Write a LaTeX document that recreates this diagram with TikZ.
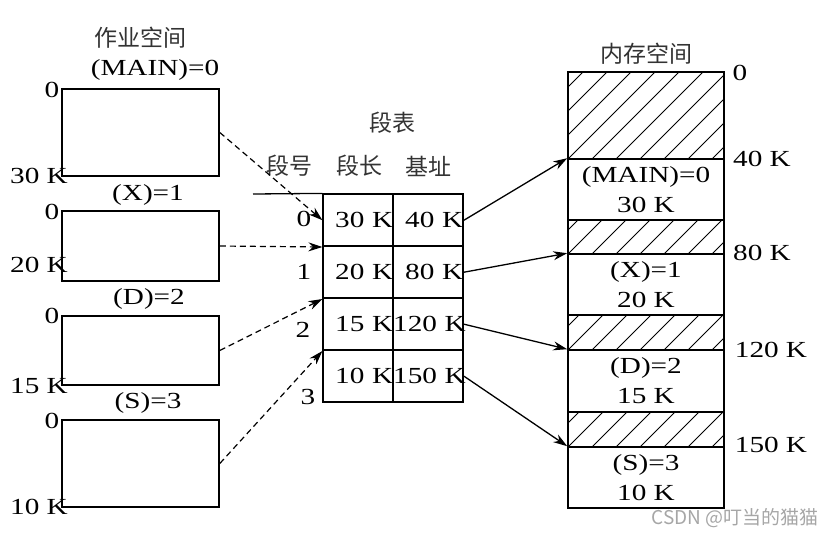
\documentclass[tikz,border=0pt]{standalone}
\usepackage{fontspec}
\setmainfont{Liberation Serif}[FakeStretch=1.27]
\newfontfamily\cjk{Noto Sans CJK SC}
\usepackage{tikz}
\usetikzlibrary{matrix,arrows.meta}

\tikzset{
    segbox/.style = {draw, line width=1.6pt, minimum width=157pt, inner sep=0pt},
    membox/.style = {draw, line width=1.6pt, minimum width=156pt, inner sep=0pt, align=center},
    hatched/.style = {membox, path picture={
        \foreach \i in {-5,...,7}
            \draw[line width=0.9pt] ([xshift=\i*24pt]path picture bounding box.south west) -- ++(130pt,130pt);
    }},
    cn/.style = {font=\cjk\fontsize{23}{26}\selectfont, text=black!80},
}

\begin{document}
\begin{tikzpicture}[x=1pt, y=-1pt, > = {Stealth[length=14pt, width=9pt]},
                    font=\fontsize{23}{30}\selectfont]
          \useasboundingbox (0,0) rectangle (835,536);

          % work space
          \node[cn] (ws) at (140,38) {作业空间};
          \node (lmain) at (155,70) {(MAIN)=0};
          \node[segbox, minimum height=87pt] (main) at (140.5,132.5) {};
          \node (lmain0) at (52,90) {0};
          \node (lmain1) at (39,176) {30~K};
          \node (lx) at (148,195) {(X)=1};
          \node[segbox, minimum height=70pt] (xseg) at (140.5,246) {};
          \node (lx0) at (52,212) {0};
          \node (lx1) at (39,265) {20~K};
          \node (ld) at (149,299) {(D)=2};
          \node[segbox, minimum height=69pt] (dseg) at (140.5,350.5) {};
          \node (ld0) at (52,316) {0};
          \node (ld1) at (39,386) {15~K};
          \node (ls) at (148,403) {(S)=3};
          \node[segbox, minimum height=87pt] (sseg) at (140.5,463.5) {};
          \node (ls0) at (52,421) {0};
          \node (ls1) at (39,507) {10~K};

          % segment table
          \node[cn] (tname) at (392,123) {段表};
          \node[cn] (hno) at (289,166) {段号};
          \node[cn] (hlen) at (359,166) {段长};
          \node[cn] (hbase) at (428,166) {基址};
          \matrix (tab) [matrix of nodes, anchor=north west, inner sep=0pt,
                         column sep=-1.6pt, row sep=-1.6pt,
                         nodes={draw, line width=1.6pt, text width=70pt, align=right,
                                minimum height=52pt, inner sep=0pt, anchor=center}] at (322.2,193.2) {
              30~K & 40~K \\
              20~K & 80~K \\
              15~K & 120~K \\
              10~K & 150~K \\
          };
          \node (n0) at (304,219) {0};
          \node (n1) at (304,272) {1};
          \node (n2) at (303,330) {2};
          \node (n3) at (308,397) {3};
          \coordinate (inlet) at (253,194);
          \draw[line width=1.3pt] (inlet) -- (tab-1-1.north west);

          % memory
          \node[cn] (mem) at (646,54) {内存空间};
          \node[hatched, minimum height=87pt] (h0) at (646,115.5) {};
          \node[membox, minimum height=61pt] (mmain) at (646,189.5) {(MAIN)=0\\30~K};
          \node[hatched, minimum height=34pt] (h1) at (646,237) {};
          \node[membox, minimum height=61pt] (mx) at (646,284.5) {(X)=1\\20~K};
          \node[hatched, minimum height=35pt] (h2) at (646,332.5) {};
          \node[membox, minimum height=62pt] (md) at (646,381) {(D)=2\\15~K};
          \node[hatched, minimum height=35pt] (h3) at (646,429.5) {};
          \node[membox, minimum height=61pt] (ms) at (646,477.5) {(S)=3\\10~K};
          \node (a0) at (740,73) {0};
          \node (a40) at (762,159) {40~K};
          \node (a80) at (762,253) {80~K};
          \node (a120) at (771,350) {120~K};
          \node (a150) at (771,445) {150~K};

          \draw[->, dashed, line width=1.2pt, dash pattern=on 6pt off 4pt] (main.east) -- (tab-1-1.west);
          \draw[->, dashed, line width=1.2pt, dash pattern=on 6pt off 4pt] (xseg.east) -- (tab-1-1.south west);
          \draw[->, dashed, line width=1.2pt, dash pattern=on 6pt off 4pt] (dseg.east) -- (tab-2-1.south west);
          \draw[->, dashed, line width=1.2pt, dash pattern=on 6pt off 4pt] (sseg.east) -- (tab-3-1.south west);
          \draw[->, line width=1.3pt] (tab-1-2.east) -- (mmain.north west);
          \draw[->, line width=1.3pt] (tab-2-2.east) -- (mx.north west);
          \draw[->, line width=1.3pt] (tab-3-2.east) -- (md.north west);
          \draw[->, line width=1.3pt] (tab-4-2.east) -- (ms.north west);

          \node[font=\cjk\fontsize{19}{22}\selectfont, text=black!35] (mark) at (735,518) {CSDN @叮当的猫猫};
        \end{tikzpicture}
\end{document}
